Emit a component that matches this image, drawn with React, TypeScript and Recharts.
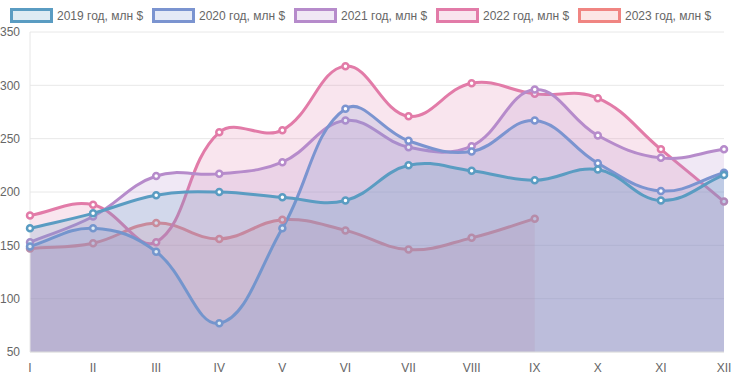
import { Area, AreaChart, CartesianGrid, XAxis, YAxis } from 'recharts'

const MONTHS = ['I', 'II', 'III', 'IV', 'V', 'VI', 'VII', 'VIII', 'IX', 'X', 'XI', 'XII']
const Y_TICKS = [50, 100, 150, 200, 250, 300, 350]

const SERIES_NAMES = ['2019 год, млн $', '2020 год, млн $', '2021 год, млн $', '2022 год, млн $', '2023 год, млн $']
const SERIES_KEYS = ['y2019', 'y2020', 'y2021', 'y2022', 'y2023']
const COLORS = ['#5a9cc2', '#7b94d0', '#b68bcb', '#e27ba8', '#f08582']

const V2019 = [166, 180, 197, 200, 195, 192, 225, 220, 211, 221, 192, 216]
const V2020 = [149, 166, 144, 77, 166, 278, 248, 238, 267, 227, 201, 218]
const V2021 = [153, 177, 215, 217, 228, 267, 242, 243, 296, 253, 232, 240]
const V2022 = [178, 188, 153, 256, 258, 318, 271, 302, 292, 288, 240, 191]
const V2023 = [147, 152, 171, 156, 174, 164, 146, 157, 175, null, null, null]

const VALUES = [V2019, V2020, V2021, V2022, V2023]
const FILL_ALPHA = 0.2

const data = MONTHS.map((m, i) => ({
  m,
  y2019: V2019[i],
  y2020: V2020[i],
  y2021: V2021[i],
  y2022: V2022[i],
  y2023: V2023[i],
}))

// spline like chart.js (tension 0.4, weighted by pixel distance)
function chartJsSpline(context: any) {
  let line = NaN
  let pts: [number, number][] = []
  const t = 0.4
  return {
    areaStart() {
      line = 0
    },
    areaEnd() {
      line = NaN
    },
    lineStart() {
      pts = []
    },
    lineEnd() {
      const n = pts.length
      if (n > 0) {
        const cps = pts.map((p, i) => {
          const prev = pts[i - 1] ?? p
          const next = pts[i + 1] ?? p
          const d01 = Math.hypot(p[0] - prev[0], p[1] - prev[1])
          const d12 = Math.hypot(next[0] - p[0], next[1] - p[1])
          const sum = d01 + d12
          const fa = sum ? (t * d01) / sum : 0
          const fb = sum ? (t * d12) / sum : 0
          const dx = next[0] - prev[0]
          const dy = next[1] - prev[1]
          return { ix: p[0] - fa * dx, iy: p[1] - fa * dy, ox: p[0] + fb * dx, oy: p[1] + fb * dy }
        })
        if (line) context.lineTo(pts[0][0], pts[0][1])
        else context.moveTo(pts[0][0], pts[0][1])
        for (let i = 1; i < n; i++) {
          context.bezierCurveTo(cps[i - 1].ox, cps[i - 1].oy, cps[i].ix, cps[i].iy, pts[i][0], pts[i][1])
        }
        if (line || (line !== 0 && n === 1)) context.closePath()
      }
      line = 1 - line
    },
    point(x: number, y: number) {
      pts.push([+x, +y])
    },
  }
}

const rgb = (hex: string) => [1, 3, 5].map((o) => parseInt(hex.slice(o, o + 2), 16))

// points sit under the fills of the series drawn above them, tint them the same way
function tinted(base: string, s: number, idx: number) {
  let c = base.startsWith('#') ? rgb(base) : [255, 255, 255]
  const v = VALUES[s][idx]
  for (let j = s - 1; j >= 0; j--) {
    const w = VALUES[j][idx]
    if (w != null && v != null && w > v) {
      const o = rgb(COLORS[j])
      c = c.map((ch, k) => ch * (1 - FILL_ALPHA) + o[k] * FILL_ALPHA)
    }
  }
  return `rgb(${c.map((ch) => Math.round(ch)).join(',')})`
}

function makeDot(s: number) {
  return (props: any) => {
    const { cx, cy, index } = props
    if (cx == null || cy == null || VALUES[s][index] == null) return <g key={`d${s}-${index}`} />
    return (
      <circle
        key={`d${s}-${index}`}
        cx={cx}
        cy={cy}
        r={3}
        fill={tinted('white', s, index)}
        stroke={tinted(COLORS[s], s, index)}
        strokeWidth={2.5}
      />
    )
  }
}

const FONT = '"Liberation Sans", Arial, Helvetica, sans-serif'

function LegendRow() {
  return (
    <div style={{ position: 'absolute', left: 0, top: 0, width: 734, height: 30, fontFamily: FONT }}>
      {SERIES_NAMES.map((name, i) => (
        <div key={name} style={{ position: 'absolute', left: 10 + i * 142, top: 8, display: 'flex', alignItems: 'center' }}>
          <div
            style={{
              boxSizing: 'border-box',
              width: 43,
              height: 15,
              border: `3px solid ${COLORS[i]}`,
              background: COLORS[i] + '33',
            }}
          />
          <span style={{ marginLeft: 4, fontSize: 12, color: '#666', whiteSpace: 'nowrap' }}>{name}</span>
        </div>
      ))}
    </div>
  )
}

export default function App() {
  // chart.js paints the first dataset on top, so draw in reverse
  const order = [4, 3, 2, 1, 0]
  return (
    <div style={{ position: 'relative', width: 734, height: 380 }}>
      <style>{'body{margin:0}'}</style>
      <LegendRow />
      <AreaChart width={734} height={380} data={data} margin={{ top: 32, right: 10, left: 0, bottom: 8 }}>
        <CartesianGrid vertical={false} stroke="#e8e8e8" />
        <XAxis
          dataKey="m"
          interval={0}
          tickLine={false}
          tickMargin={5}
          height={20}
          axisLine={{ stroke: '#e0e0e0' }}
          tick={{ fontSize: 12, fill: '#666', fontFamily: FONT }}
        />
        <YAxis
          type="number"
          domain={[50, 350]}
          ticks={Y_TICKS}
          width={30}
          tickLine={false}
          tickMargin={4}
          axisLine={{ stroke: '#e6e6e6' }}
          tick={{ fontSize: 12, fill: '#666', fontFamily: FONT }}
        />
        {order.map((i) => (
          <Area
            key={SERIES_KEYS[i]}
            dataKey={SERIES_KEYS[i]}
            name={SERIES_NAMES[i]}
            type={chartJsSpline as any}
            stroke={COLORS[i]}
            strokeWidth={3}
            fill={COLORS[i]}
            fillOpacity={FILL_ALPHA}
            dot={makeDot(i)}
            activeDot={false}
            isAnimationActive={false}
          />
        ))}
      </AreaChart>
    </div>
  )
}
